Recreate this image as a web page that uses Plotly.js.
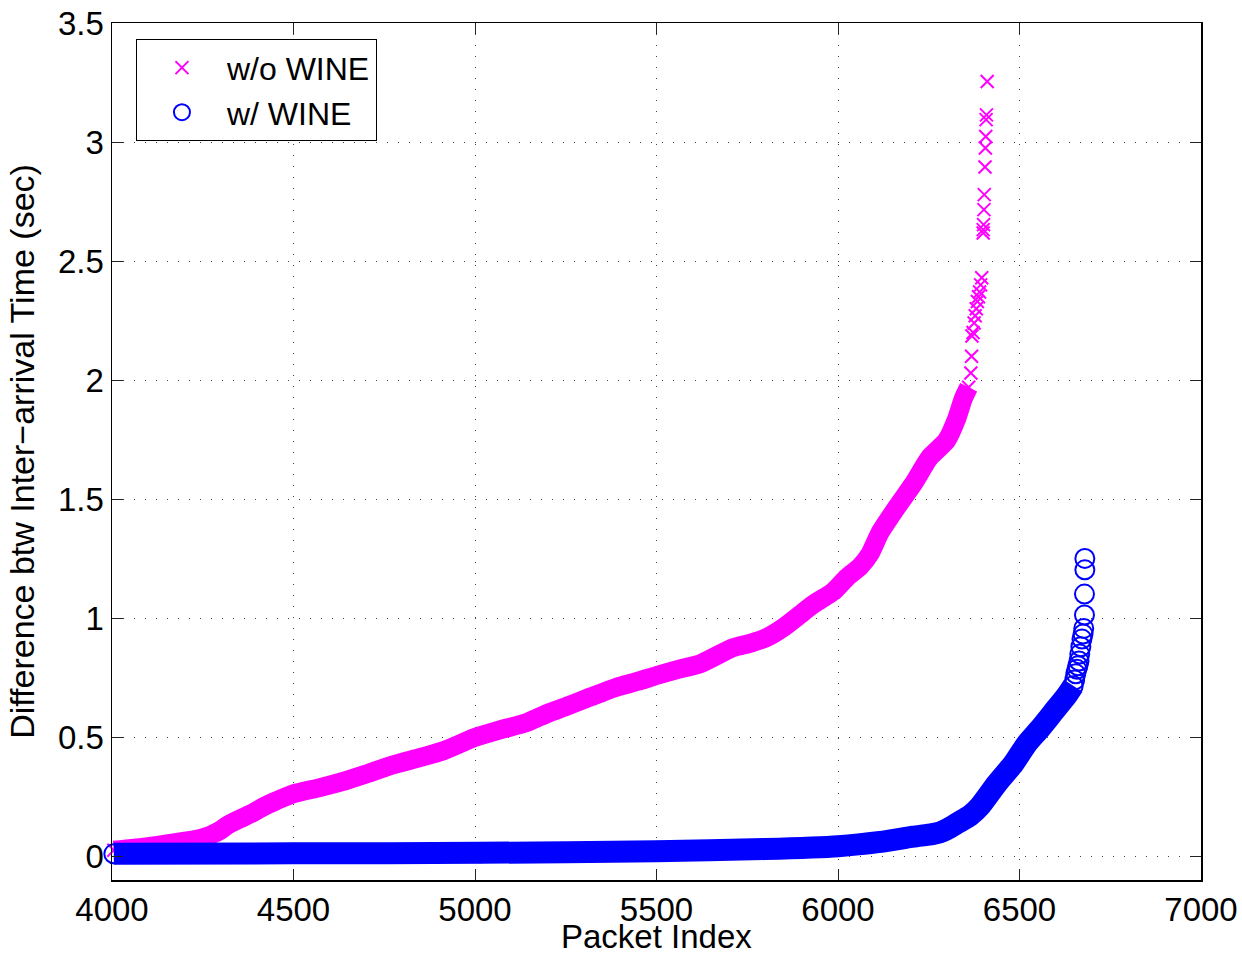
<!DOCTYPE html>
<html>
<head>
<meta charset="utf-8">
<script src="https://cdn.plot.ly/plotly-3.0.1.min.js"></script>
<style>html,body{margin:0;padding:0;background:#fff;}#chart{width:1242px;height:957px;}</style>
</head>
<body>
<div id="chart"></div>
<script>
// w/o WINE: dense part of the sorted curve
const woX = [4005, 4100, 4178, 4230, 4270, 4300, 4316, 4350, 4389, 4420, 4453, 4500, 4570, 4637, 4700, 4775, 4850, 4913, 5002, 5069, 5142, 5200, 5252, 5320, 5390, 5450, 5500, 5560, 5620, 5711, 5760, 5803, 5849, 5895, 5932, 5987, 6024, 6061, 6088, 6116, 6162, 6207, 6253, 6299, 6327, 6345, 6360];
const woY = [0.025, 0.04, 0.058, 0.07, 0.088, 0.11, 0.128, 0.155, 0.183, 0.21, 0.233, 0.262, 0.287, 0.314, 0.345, 0.384, 0.415, 0.443, 0.50, 0.531, 0.561, 0.60, 0.629, 0.67, 0.71, 0.735, 0.759, 0.785, 0.808, 0.876, 0.895, 0.918, 0.96, 1.014, 1.058, 1.112, 1.17, 1.217, 1.27, 1.36, 1.466, 1.563, 1.676, 1.746, 1.838, 1.922, 1.97];
// w/o WINE: sparse tail
const woTopX = [6366, 6368, 6369, 6372, 6375, 6378, 6381, 6384, 6387, 6390, 6393, 6396, 6400, 6400, 6401, 6402, 6403, 6405, 6406, 6407, 6408, 6409, 6411];
const woTopY = [2.03, 2.10, 2.185, 2.20, 2.24, 2.27, 2.30, 2.33, 2.35, 2.37, 2.40, 2.43, 2.618, 2.632, 2.653, 2.716, 2.779, 2.895, 2.975, 3.023, 3.094, 3.114, 3.254];

// w/ WINE: dense part
const wX = [4005, 4500, 5014, 5500, 5800, 6001, 6116, 6207, 6260, 6281, 6299, 6330, 6364, 6391, 6437, 6483, 6520, 6556, 6593, 6630, 6648];
const wY = [0.010, 0.012, 0.014, 0.021, 0.030, 0.042, 0.060, 0.082, 0.093, 0.100, 0.112, 0.14, 0.171, 0.21, 0.304, 0.388, 0.472, 0.535, 0.605, 0.675, 0.716];
// w/ WINE: sparse tail
const wTopX = [6652, 6655, 6658, 6661, 6664, 6666, 6669, 6672, 6675, 6677, 6679, 6679, 6680, 6680];
const wTopY = [0.74, 0.766, 0.785, 0.80, 0.82, 0.849, 0.88, 0.912, 0.933, 0.957, 1.013, 1.101, 1.203, 1.251];

const seriesNames = ['w/o WINE', 'w/ WINE'];
const xTitle = 'Packet Index';
const yTitle = 'Difference btw Inter\u2212arrival Time (sec)';

const MAG = '#ff00ff', BLU = '#0000ff';
const FONT = 'Liberation Sans, Arial, Helvetica, sans-serif';

const traces = [
  { x: woX, y: woY, mode: 'lines', line: { color: MAG, width: 19, shape: 'spline', smoothing: 0.6 }, showlegend: false, hoverinfo: 'skip' },
  { x: woX.concat(woTopX), y: woY.concat(woTopY), mode: 'markers', name: seriesNames[0], cliponaxis: false,
    marker: { symbol: 'x-thin-open', size: 13, color: MAG, line: { color: MAG, width: 2 } } },
  { x: wX, y: wY, mode: 'lines', line: { color: BLU, width: 22, shape: 'spline', smoothing: 0.6 }, showlegend: false, hoverinfo: 'skip' },
  { x: wX.concat(wTopX), y: wY.concat(wTopY), mode: 'markers', name: seriesNames[1], cliponaxis: false,
    marker: { symbol: 'circle-open', size: 19, color: BLU, line: { color: BLU, width: 2 } } }
];

const axisCommon = {
  showline: true, linecolor: '#000', linewidth: 1.5, mirror: 'ticks',
  ticks: 'inside', ticklen: 11, tickwidth: 1, tickcolor: '#222',
  showgrid: true, gridcolor: '#444', gridwidth: 1, griddash: '1px,10px',
  zeroline: false, tickfont: { family: FONT, size: 33, color: '#000' }
};

const layout = {
  width: 1242, height: 957,
  margin: { l: 112, r: 41, t: 23, b: 77 },
  paper_bgcolor: '#fff', plot_bgcolor: '#fff',
  font: { family: FONT, color: '#000' },
  xaxis: Object.assign({}, axisCommon, {
    range: [4000, 7000], dtick: 500, tick0: 4000
  }),
  yaxis: Object.assign({}, axisCommon, {
    range: [-0.1, 3.5], dtick: 0.5, tick0: 0,
    title: { text: yTitle, font: { family: FONT, size: 34, color: '#000' } }
  }),
  annotations: [{
    text: xTitle, xref: 'paper', yref: 'paper', x: 0.5, y: 0,
    xanchor: 'center', yanchor: 'bottom', yshift: -77, showarrow: false,
    font: { family: FONT, size: 33, color: '#000' }
  }],
  legend: {
    x: 0.022, y: 0.981, xanchor: 'left', yanchor: 'top',
    bgcolor: '#fff', bordercolor: '#000', borderwidth: 1,
    font: { family: FONT, size: 32, color: '#000' }, itemwidth: 80
  },
  showlegend: true
};

Plotly.newPlot('chart', traces, layout, { staticPlot: true });
</script>
</body>
</html>
